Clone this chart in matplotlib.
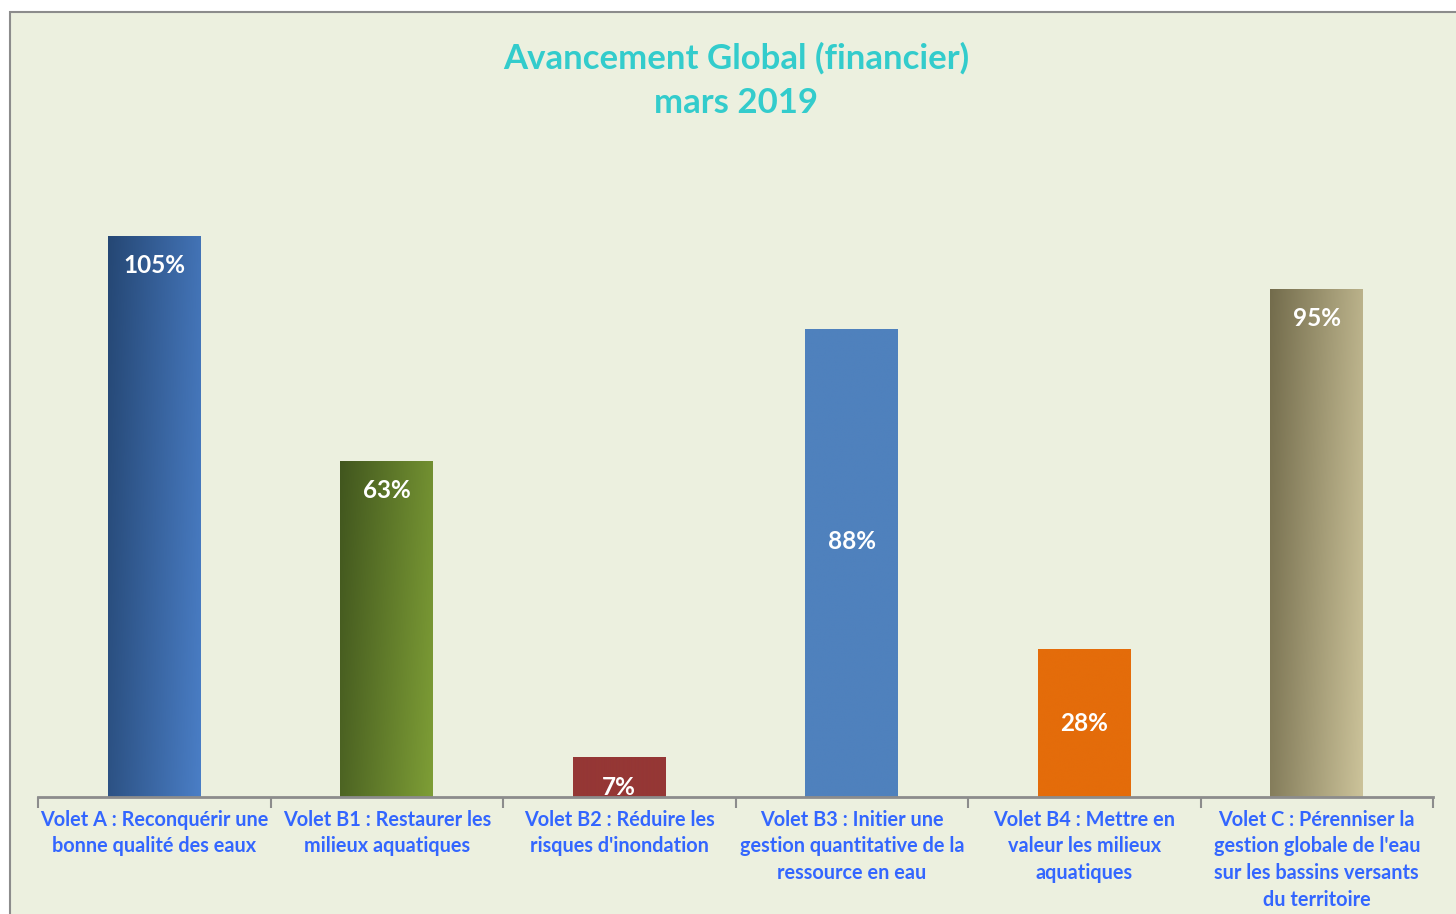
import matplotlib.pyplot as plt
import numpy as np
from matplotlib.colors import LinearSegmentedColormap
from matplotlib.patches import Rectangle

# Data
categories = [
    "Volet A : Reconquérir une\nbonne qualité des eaux",
    "Volet B1 : Restaurer les\nmilieux aquatiques",
    "Volet B2 : Réduire les\nrisques d'inondation",
    "Volet B3 : Initier une\ngestion quantitative de la\nressource en eau",
    "Volet B4 : Mettre en\nvaleur les milieux\naquatiques",
    "Volet C : Pérenniser la\ngestion globale de l'eau\nsur les bassins versants\ndu territoire",
]
values = [1.05, 0.629, 0.074, 0.876, 0.276, 0.951]

# where the value label sits: None = just inside the bar end, else fraction of bar height
label_frac = [None, None, None, 0.545, 0.5, None]

# fill colours: (dark, light) for gradients, same twice for flat fills
fills = [
    ("#254774", "#4A7EC6"),
    ("#41561E", "#7E9E36"),
    ("#953735", "#953735"),
    ("#4F81BD", "#4F81BD"),
    ("#E46C0A", "#E46C0A"),
    ("#736C4C", "#CCC39A"),
]

W, H = 1456, 914
bg = "#ECF0DF"
plt.rcParams['font.family'] = ['Lato', 'DejaVu Sans']
plt.rcParams['font.weight'] = 'bold'

fig = plt.figure(figsize=(W / 100, H / 100), dpi=100)
fig.patch.set_facecolor("white")

# chart frame (runs off the right and bottom edges)
frame = Rectangle((10 / W, -0.1), 1.1, 1.1 - 12 / H, transform=fig.transFigure,
                  facecolor=bg, edgecolor="#8C8C8C", linewidth=1.5, zorder=-5)
fig.patches.append(frame)

ax = fig.add_axes([38 / W, (H - 797) / H, (1433 - 38) / W, (797 - 130) / H])
ax.set_facecolor("none")
ax.set_zorder(1)

x = np.arange(len(values))
bars = ax.bar(x, values, width=0.4, color="none", zorder=2)

# gradient fill, dark at top-left to light at bottom-right
u = np.linspace(0, 1, 200)
v = np.linspace(1, 0, 200)
U, V = np.meshgrid(u, v)
grad = np.clip(0.8 * U + 0.2 * (1 - V), 0, 1)
for bar, (c0, c1) in zip(bars, fills):
    cmap = LinearSegmentedColormap.from_list("g", [c0, c1])
    x0, y0 = bar.get_x(), bar.get_y()
    im = ax.imshow(grad, cmap=cmap, extent=[x0, x0 + bar.get_width(), y0, y0 + bar.get_height()],
                   aspect="auto", zorder=2, interpolation="bilinear", vmin=0, vmax=1)
    im.set_clip_path(bar)

ax.set_xlim(-0.5, len(values) - 0.5)
ax.set_ylim(0, 1.248)

for xi, val, frac in zip(x, values, label_frac):
    txt = f"{val * 100:.0f}%"
    if frac is not None:
        ax.text(xi, val * frac, txt, ha="center", va="center", color="white",
                fontsize=17.5, fontweight="bold", zorder=4)
    else:
        ax.annotate(txt, (xi, val), xytext=(0, -30), textcoords="offset pixels",
                    ha="center", va="center", color="white",
                    fontsize=17.5, fontweight="bold", zorder=4)

for s in ["top", "right", "left"]:
    ax.spines[s].set_visible(False)
ax.spines["bottom"].set_color("#8C8C8C")
ax.spines["bottom"].set_linewidth(2)
ax.spines["bottom"].set_zorder(5)
ax.set_yticks([])

ax.set_xticks(x)
ax.set_xticklabels(categories, color="#3366FF", fontsize=14.3,
                   fontweight="bold", linespacing=1.42)
ax.tick_params(axis="x", which="major", length=0, pad=9)
ax.set_xticks(np.arange(-0.5, len(values)), minor=True)
ax.tick_params(axis="x", which="minor", length=8, width=1.5, color="#8C8C8C")

fig.text(736 / W, 1 - 58 / H, "Avancement Global (financier)", ha="center", va="center",
         color="#33CCCC", fontsize=25, fontweight="bold")
fig.text(736 / W, 1 - 103 / H, "mars 2019", ha="center", va="center",
         color="#33CCCC", fontsize=25, fontweight="bold")

fig.savefig("out.png", dpi=100, facecolor=fig.get_facecolor())
